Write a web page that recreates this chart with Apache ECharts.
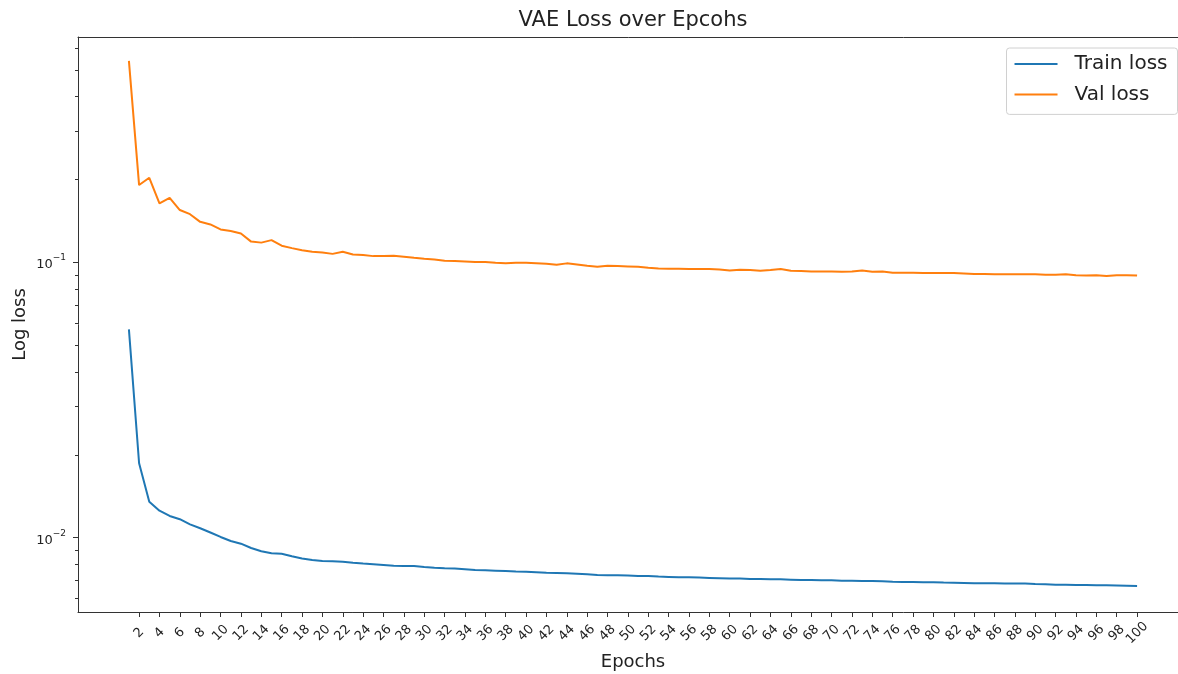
<!DOCTYPE html>
<html>
<head>
<meta charset="utf-8">
<title>VAE Loss over Epcohs</title>
<script src="https://cdn.jsdelivr.net/npm/echarts@6/dist/echarts.min.js"></script>
<style>
  html, body { margin: 0; padding: 0; background: #ffffff; }
  #chart { width: 1178px; height: 674px; }
</style>
</head>
<body>
<div id="chart"></div>
<script>
// Epoch numbers (1..100)
const epochs = [
  1, 2, 3, 4, 5, 6, 7, 8, 9, 10, 11, 12, 13, 14, 15, 16, 17, 18, 19, 20,
  21, 22, 23, 24, 25, 26, 27, 28, 29, 30, 31, 32, 33, 34, 35, 36, 37, 38, 39, 40,
  41, 42, 43, 44, 45, 46, 47, 48, 49, 50, 51, 52, 53, 54, 55, 56, 57, 58, 59, 60,
  61, 62, 63, 64, 65, 66, 67, 68, 69, 70, 71, 72, 73, 74, 75, 76, 77, 78, 79, 80,
  81, 82, 83, 84, 85, 86, 87, 88, 89, 90, 91, 92, 93, 94, 95, 96, 97, 98, 99, 100
];

// Training loss per epoch
const trainLoss = [
  0.0571, 0.01863, 0.01351, 0.01253, 0.01199, 0.01167, 0.01118, 0.01082, 0.01044, 0.01006,
  0.00973, 0.00951, 0.00917, 0.00893, 0.00878, 0.00874, 0.00856, 0.00840, 0.00830, 0.00823,
  0.00821, 0.00818, 0.00811, 0.00805, 0.00801, 0.00796, 0.00791, 0.00789, 0.00789, 0.00783,
  0.00778, 0.00774, 0.00772, 0.00768, 0.00763, 0.00761, 0.00759, 0.00757, 0.00754, 0.00752,
  0.00749, 0.00746, 0.00744, 0.00742, 0.00740, 0.00736, 0.00732, 0.00730, 0.00730, 0.00728,
  0.00726, 0.00726, 0.00722, 0.00720, 0.00718, 0.00718, 0.00716, 0.00714, 0.00712, 0.00710,
  0.00710, 0.00708, 0.00708, 0.00706, 0.00706, 0.00704, 0.00702, 0.00702, 0.00701, 0.00700,
  0.00698, 0.00698, 0.00696, 0.00696, 0.00695, 0.00692, 0.00690, 0.00690, 0.00689, 0.00689,
  0.00687, 0.00686, 0.00685, 0.00683, 0.00683, 0.00683, 0.00682, 0.00681, 0.00681, 0.00679,
  0.00678, 0.00675, 0.00675, 0.00673, 0.00673, 0.00672, 0.00671, 0.00670, 0.00669, 0.00668
];

// Validation loss per epoch
const valLoss = [
  0.540, 0.191, 0.203, 0.164, 0.1716, 0.155, 0.1497, 0.1404, 0.1374, 0.1318,
  0.1300, 0.1274, 0.1190, 0.1180, 0.1205, 0.1150, 0.1127, 0.1108, 0.1093, 0.1087,
  0.1074, 0.1093, 0.1069, 0.1063, 0.1054, 0.1054, 0.1057, 0.1048, 0.1039, 0.1031,
  0.1025, 0.1013, 0.1011, 0.1008, 0.1003, 0.1003, 0.0997, 0.0994, 0.0997, 0.0997,
  0.0994, 0.0988, 0.0980, 0.0992, 0.0983, 0.0972, 0.0964, 0.0972, 0.0970, 0.0967,
  0.0964, 0.0956, 0.0951, 0.0948, 0.0948, 0.0946, 0.0946, 0.0946, 0.0943, 0.0935,
  0.0940, 0.0938, 0.0932, 0.0938, 0.0946, 0.0932, 0.0930, 0.0927, 0.0927, 0.0927,
  0.0925, 0.0927, 0.0935, 0.0925, 0.0927, 0.0917, 0.0917, 0.0917, 0.0916, 0.0915,
  0.0915, 0.0915, 0.0912, 0.0907, 0.0907, 0.0905, 0.0905, 0.0905, 0.0905, 0.0905,
  0.0902, 0.0902, 0.0905, 0.0899, 0.0897, 0.0899, 0.0892, 0.0899, 0.0899, 0.0897
];

// Y-axis decades that get labels, and minor log ticks between them
const majorTicks = [0.01, 0.1];
const minorTicks = [
  0.006, 0.007, 0.008, 0.009,
  0.02, 0.03, 0.04, 0.05, 0.06, 0.07, 0.08, 0.09,
  0.2, 0.3, 0.4, 0.5, 0.6
];

// X ticks on every even epoch
const xTicks = epochs.filter(function (e) { return e % 2 === 0; });

const FONT = 'DejaVu Sans';
const INK = '#222222';
const SPINE = '#333333';

// Plot window: the right end of the axes runs past the page edge
const X_MIN = -4;
const X_MAX = 105;
const Y_MIN = 0.00537;
const Y_MAX = 0.659;

const chart = echarts.init(document.getElementById('chart'), null, { renderer: 'canvas' });

function pairs(ys) {
  return epochs.map(function (e, i) { return [e, ys[i]]; });
}

function decadeLabel(v) {
  const exp = Math.round(Math.log10(v));
  const expText = (exp < 0 ? '\u2212' : '') + Math.abs(exp);
  return '{b|10}{s|' + expText + '}';
}

const option = {
  animation: false,
  backgroundColor: '#ffffff',
  textStyle: { fontFamily: FONT },
  title: {
    text: 'VAE Loss over Epcohs',
    left: 633,
    top: 10,
    padding: 0,
    textAlign: 'center',
    textStyle: { fontFamily: FONT, fontSize: 21, fontWeight: 'normal', color: INK }
  },
  legend: {
    orient: 'vertical',
    right: 0.5,
    top: 48,
    padding: [6, 10, 10, 8],
    itemGap: 10.4,
    itemWidth: 43,
    itemHeight: 2,
    icon: 'rect',
    backgroundColor: 'rgba(255,255,255,0.8)',
    borderColor: '#d0d0d0',
    borderWidth: 1,
    borderRadius: 3,
    textStyle: { fontFamily: FONT, fontSize: 20, color: INK, lineHeight: 20, padding: [0, 0, 0, 12] },
    data: ['Train loss', 'Val loss']
  },
  grid: {
    left: 78,
    top: 37,
    width: 1110,
    bottom: 62,
    show: false,
    containLabel: false,
    outerBoundsMode: 'none'
  },
  xAxis: [
    {
      type: 'value',
      min: X_MIN,
      max: X_MAX,
      interval: 2,
      position: 'bottom',
      name: 'Epochs',
      nameLocation: 'middle',
      nameGap: 41,
      nameMoveOverlap: false,
      nameTextStyle: { fontFamily: FONT, fontSize: 18, color: INK },
      axisLine: { show: true, onZero: false, lineStyle: { color: SPINE, width: 1 } },
      axisTick: { show: true, length: 5, customValues: xTicks, lineStyle: { color: SPINE } },
      axisLabel: {
        customValues: xTicks,
        rotate: 45,
        align: 'center',
        verticalAlign: 'middle',
        margin: 21,
        fontFamily: FONT,
        fontSize: 13,
        color: INK
      },
      splitLine: { show: false }
    },
    {
      // top frame line
      type: 'value',
      min: X_MIN,
      max: X_MAX,
      interval: 2,
      position: 'top',
      axisLine: { show: true, onZero: false, lineStyle: { color: SPINE, width: 1 } },
      axisTick: { show: false },
      axisLabel: { show: false },
      splitLine: { show: false }
    }
  ],
  yAxis: [
    {
      type: 'log',
      logBase: 10,
      min: Y_MIN,
      max: Y_MAX,
      position: 'left',
      name: 'Log loss',
      nameLocation: 'middle',
      nameGap: 49,
      nameMoveOverlap: false,
      nameRotate: 90,
      nameTextStyle: { fontFamily: FONT, fontSize: 18, color: INK },
      axisLine: { show: true, onZero: false, lineStyle: { color: SPINE, width: 1 } },
      axisTick: { show: true, length: 5, customValues: majorTicks, lineStyle: { color: SPINE } },
      axisLabel: {
        customValues: majorTicks,
        margin: 12,
        formatter: decadeLabel,
        rich: {
          b: { fontFamily: FONT, fontSize: 13, color: INK, lineHeight: 18, verticalAlign: 'bottom' },
          s: { fontFamily: FONT, fontSize: 9, color: INK, lineHeight: 18, verticalAlign: 'top' }
        }
      },
      splitLine: { show: false },
      minorTick: { show: false }
    },
    {
      // minor log ticks
      type: 'log',
      logBase: 10,
      min: Y_MIN,
      max: Y_MAX,
      position: 'left',
      axisLine: { show: false, onZero: false },
      axisTick: { show: true, length: 3, customValues: minorTicks, lineStyle: { color: SPINE } },
      axisLabel: { show: false },
      splitLine: { show: false }
    }
  ],
  series: [
    {
      name: 'Train loss',
      type: 'line',
      xAxisIndex: 0,
      yAxisIndex: 0,
      data: pairs(trainLoss),
      showSymbol: false,
      symbol: 'none',
      color: '#1f77b4',
      lineStyle: { color: '#1f77b4', width: 2 },
      z: 3
    },
    {
      name: 'Val loss',
      type: 'line',
      xAxisIndex: 0,
      yAxisIndex: 0,
      data: pairs(valLoss),
      showSymbol: false,
      symbol: 'none',
      color: '#ff7f0e',
      lineStyle: { color: '#ff7f0e', width: 2 },
      z: 3
    }
  ]
};

chart.setOption(option);
</script>
</body>
</html>
